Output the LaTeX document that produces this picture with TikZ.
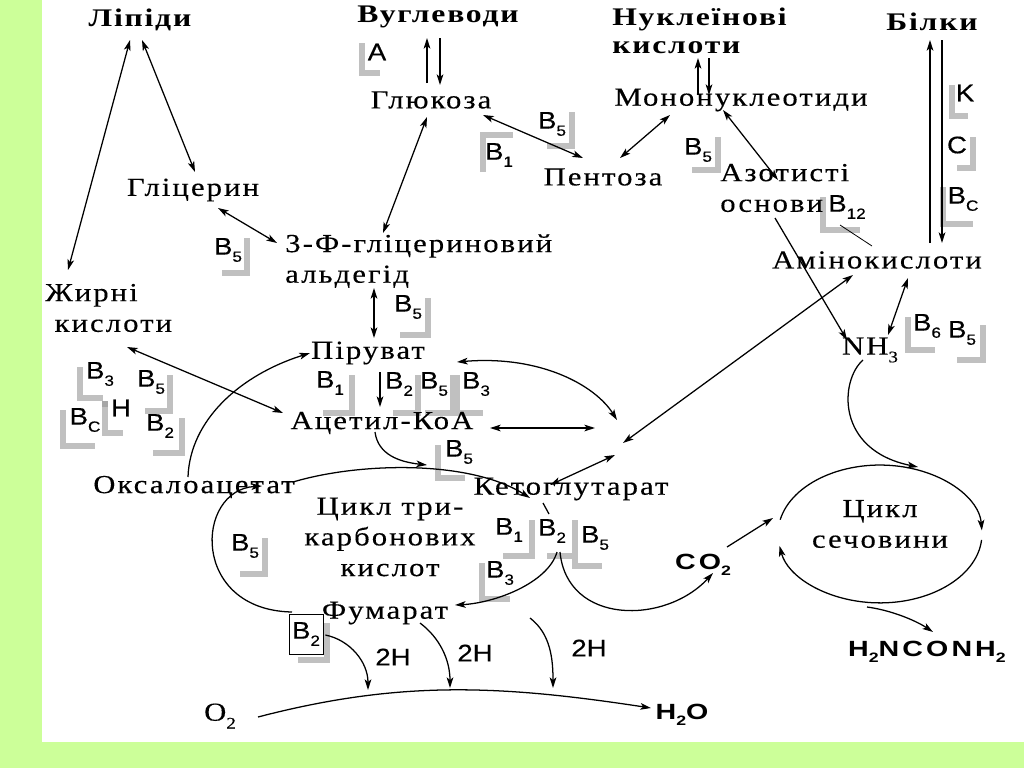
\documentclass[tikz,border=0pt]{standalone}
\usepackage{fontspec}
\usepackage{graphicx}
\usetikzlibrary{arrows.meta,calc}
\newfontfamily\rf{Liberation Serif}[FakeStretch=1.18,LetterSpace=8,FakeBold=0.3]
\newfontfamily\hf{Liberation Serif}[FakeStretch=1.25,LetterSpace=7]
\newfontfamily\labf{Liberation Sans}[FakeStretch=1.15,FakeBold=0.4]
\newfontfamily\bsf{Liberation Sans}[FakeStretch=1.3,LetterSpace=14]
\newcommand\sbx[1]{\raisebox{-0.3em}{\scalebox{0.62}{#1}}}
\definecolor{bgg}{RGB}{204,255,153}
\definecolor{gbc}{RGB}{192,192,192}
\tikzset{
  tx/.style={font=\fontsize{19.5}{23}\selectfont\rf, inner sep=0pt},
  hd/.style={font=\fontsize{19}{21}\selectfont\hf\bfseries, inner sep=0pt},
  lab/.style={font=\fontsize{18}{18}\selectfont\labf, inner sep=0pt},
  bs/.style={font=\fontsize{16.5}{16.5}\selectfont\bsf\bfseries, inner sep=0pt},
  gb/.style={draw=gbc, line width=4.5pt},
  ar/.style={-{Stealth[length=8pt,width=5pt,inset=2pt]}, line width=0.95pt},
  dar/.style={{Stealth[length=8pt,width=5pt,inset=2pt]}-{Stealth[length=8pt,width=5pt,inset=2pt]}, line width=0.95pt},
  ln/.style={line width=0.95pt}
}
\begin{document}
\begin{tikzpicture}[x=0.75pt,y=-0.75pt]
\useasboundingbox (0,0) rectangle (1024,768);
\fill[bgg] (0,0) rectangle (1024,768);
\fill[white] (42,0) rectangle (1024,742);

% grey brackets
\draw[gb] (362,43) -- (362,73) -- (380,73);
\draw[gb] (572,112) -- (572,146) -- (547,146);
\draw[gb] (483,172) -- (483,135) -- (513,135);
\draw[gb] (718,137) -- (718,170) -- (692,170);
\draw[gb] (952,85) -- (952,116) -- (968,116);
\draw[gb] (973,137) -- (973,168) -- (957,168);
\draw[gb] (943,187) -- (943,224) -- (973,224);
\draw[gb] (823,197) -- (823,230) -- (860,230);
\draw[gb] (247,238) -- (247,273) -- (222,273);
\draw[gb] (428,298) -- (428,335) -- (400,335);
\draw[gb] (908,317) -- (908,350) -- (935,350);
\draw[gb] (983,325) -- (983,360) -- (957,360);
\draw[gb] (80,367) -- (80,398) -- (103,398);
\draw[gb] (105,402) -- (105,433) -- (123,433);
\fill[gray!70] (102,401) rectangle (108,407);
\draw[gb] (63,410) -- (63,446) -- (95,446);
\draw[gb] (170,375) -- (170,411) -- (145,411);
\draw[gb] (182,418) -- (182,453) -- (153,453);
\draw[gb] (352,375) -- (352,413) -- (323,413);
\draw[gb] (418,375) -- (418,413) -- (393,413);
\draw[gb] (453,375) -- (453,413) -- (425,413);
\draw[gb] (457,375) -- (457,413) -- (483,413);
\draw[gb] (438,445) -- (438,478) -- (465,478);
\draw[gb] (265,538) -- (265,574) -- (240,574);
\draw[gb] (327,623) -- (327,660) -- (298,660);
\draw[gb] (532,520) -- (532,556) -- (503,556);
\draw[gb] (575,520) -- (575,556) -- (547,556);
\draw[gb] (575,530) -- (575,566) -- (602,566);
\draw[gb] (482,563) -- (482,599) -- (510,599);

% headers
\node[hd] (L) at (140,20) {Ліпіди};
\node[hd] (V) at (438,17) {Вуглеводи};
\node[hd, align=left, anchor=west] (N) at (612,31) {Нуклеїнові\\кислоти};
\node[hd] (Bk) at (932,22) {Білки};

% text nodes
\node[tx] (Gl) at (431,100) {Глюкоза};
\node[tx] (Mn) at (741,100) {Мононуклеотиди};
\node[tx] (Gc) at (193,190) {Гліцерин};
\node[tx] (Pn) at (603,177) {Пентоза};
\node[tx, align=left, anchor=west] (Az) at (720,188) {Азотисті\\основи};
\node[tx, align=left, anchor=west] (F3) at (285,261) {3-Ф-гліцериновий\\альдегід};
\node[tx] (Am) at (877,260) {Амінокислоти};
\node[tx, align=left, anchor=west] (Zh) at (45,308) {Жирні\\\hspace*{7pt}кислоти};
\node[tx] (Pr) at (368,353) {Піруват};
\node[tx] (NH) at (870,350) {NH\sbx{3}};
\node[tx] (Ac) at (382,423) {Ацетил-КоА};
\node[tx] (Ox) at (194,487) {Оксалоацетат};
\node[tx] (Kg) at (571,489) {Кетоглутарат};
\node[tx, align=center] (TCA) at (390,537) {Цикл три-\\карбонових\\кислот};
\node[tx] (Fm) at (385,613) {Фумарат};
\node[tx, align=center] (UC) at (880,524) {Цикл\\сечовини};
\coordinate (E) at (880,534);
\coordinate (J) at (620,440);
\node[tx] (O2) at (220,716) {O\sbx{2}};
\node[bs] (H2O) at (682,715) {H\sbx{2}O};
\node[bs] (CO2) at (703,565) {CO\sbx{2}};
\node[bs] (Ur) at (927,652) {H\sbx{2}NCONH\sbx{2}};
\node[lab] (h1) at (393,657) {2H};
\node[lab] (h2) at (475,653) {2H};
\node[lab] (h3) at (589,648) {2H};

% vitamin labels
\node[lab] (lA) at (377,52) {A};
\node[lab] (l1) at (552,124) {B\sbx{5}};
\node[lab] (l2) at (499,155) {B\sbx{1}};
\node[lab] (l3) at (698,150) {B\sbx{5}};
\node[lab] (lK) at (965,93) {K};
\node[lab] (lC) at (957,145) {C};
\node[lab] (l4) at (963,199) {B\sbx{C}};
\node[lab] (l5) at (847,207) {B\sbx{12}};
\node[lab] (l6) at (228,250) {B\sbx{5}};
\node[lab] (l7) at (408,307) {B\sbx{5}};
\node[lab] (l8) at (927,326) {B\sbx{6}};
\node[lab] (l9) at (962,333) {B\sbx{5}};
\node[lab] (l10) at (100,374) {B\sbx{3}};
\node[lab] (l11) at (151,382) {B\sbx{5}};
\node[lab] (lH) at (121,408) {H};
\node[lab] (l12) at (85,420) {B\sbx{C}};
\node[lab] (l13) at (160,426) {B\sbx{2}};
\node[lab] (l14) at (330,383) {B\sbx{1}};
\node[lab] (l15) at (399,384) {B\sbx{2}};
\node[lab] (l16) at (434,384) {B\sbx{5}};
\node[lab] (l17) at (476,384) {B\sbx{3}};
\node[lab] (l18) at (459,452) {B\sbx{5}};
\node[lab] (l19) at (245,546) {B\sbx{5}};
\node[lab, draw, fill=white, line width=0.6pt, minimum width=25.5pt, minimum height=30pt] (Bx) at (306,634) {B\sbx{2}};
\node[lab] (l20) at (509,530) {B\sbx{1}};
\node[lab] (l21) at (552,531) {B\sbx{2}};
\node[lab] (l22) at (595,538) {B\sbx{5}};
\node[lab] (l23) at (500,573) {B\sbx{3}};

% connectors
\draw[dar] ($(L)+(-10,20)$) -- ($(Zh.west)+(23,-38)$);
\draw[dar] ($(L)+(2,20)$) -- ($(Gc)+(2,-18)$);
\draw[ar] ($(Gl)+(-4,-17)$) -- ($(V)+(-11,21)$);
\draw[ar] ($(V)+(2,21)$) -- ($(Gl)+(9,-15)$);
\draw[dar] ($(Gl)+(52,15)$) -- ($(Pn)+(-20,-19)$);
\draw[dar] ($(Gl)+(-4,17)$) -- ($(F3.west)+(98,-28)$);
\draw[dar] ($(Pn)+(17,-19)$) -- ($(Mn)+(-71,15)$);
\draw[ar] ($(Mn)+(-43,-5)$) -- ($(N.west)+(86,27)$);
\draw[ar] ($(N.west)+(97,27)$) -- ($(Mn)+(-32,-5)$);
\draw[dar] ($(Mn)+(-18,10)$) -- ($(Az.west)+(58,-8)$);
\draw[ar] ($(Az.west)+(55,30)$) -- ($(NH)+(-23,-10)$);
\draw[ln, line width=0.6pt] ($(Am)+(-5,-14)$) -- ($(Az.west)+(120,37)$);
\draw[ar] ($(Am)+(53,-17)$) -- ($(Bk)+(-2,18)$);
\draw[ar] ($(Bk)+(10,18)$) -- ($(Am)+(65,-17)$);
\draw[dar] ($(Gc)+(25,18)$) -- ($(F3.west)+(-8,-18)$);
\draw[dar] ($(F3.west)+(89,27)$) -- ($(Pr)+(6,-15)$);
\draw[dar] ($(Zh.west)+(82,39)$) -- ($(Ac)+(-99,-10)$);
\draw[ar] ($(Pr)+(12,19)$) -- ($(Ac)+(-2,-16)$);
\draw[dar] ($(Pr)+(89,9)$) .. controls ($(Pr)+(172,2)$) and ($(J)+(-25,-55)$) .. ($(J)+(-3,-20)$);
\draw[dar] ($(Ac)+(108,5)$) -- ($(J)+(-25,-12)$);
\draw[dar] ($(Am)+(-24,15)$) -- ($(J)+(3,3)$);
\draw[dar] ($(Kg)+(-21,-4)$) -- ($(J)+(-5,15)$);
\draw[ar] ($(Ox)+(-6,-10)$) .. controls ($(Ox)+(-4,-67)$) and ($(Pr)+(-128,22)$) .. ($(Pr)+(-58,0)$);
\draw[ar] ($(Ox)+(99,-5)$) .. controls ($(Ox)+(166,-25)$) and ($(Kg)+(-101,-29)$) .. ($(Kg)+(-41,9)$);
\draw[ar] ($(Ac)+(-7,9)$) .. controls ($(Ac)+(-4,32)$) and ($(Kg)+(-171,-27)$) .. ($(Kg)+(-144,-24)$);
\draw[ln] ($(Kg)+(-28,14)$) -- ($(Kg)+(-22,25)$);
\draw[ar] ($(Kg)+(-14,63)$) .. controls ($(Kg)+(-23,94)$) and ($(Fm)+(110,-10)$) .. ($(Fm)+(70,-8)$);
\draw[ar] ($(Kg)+(-11,63)$) .. controls ($(Kg)+(-4,136)$) and ($(CO2)+(-38,60)$) .. ($(CO2)+(10,8)$);
\draw[ar] ($(Fm)+(-93,-1)$) .. controls ($(Fm)+(-195,-3)$) and ($(Ox)+(1,3)$) .. ($(Ox)+(68,-1)$);
\draw[ar] ($(Bx.east)+(2,1)$) .. controls ($(O2)+(130,-76)$) and ($(O2)+(148,-54)$) .. ($(O2)+(148,-26)$);
\draw[ar] ($(Fm)+(35,10)$) .. controls ($(Fm)+(55,25)$) and ($(O2)+(230,-56)$) .. ($(O2)+(230,-28)$);
\draw[ar] ($(Kg)+(-41,129)$) .. controls ($(Kg)+(-20,145)$) and ($(H2O)+(-129,-55)$) .. ($(H2O)+(-129,-27)$);
\draw[ar] ($(O2)+(38,1)$) .. controls ($(O2)+(180,-36)$) and ($(H2O)+(-182,-30)$) .. ($(H2O)+(-31,-7)$);
\draw[ar] ($(CO2)+(24,-18)$) -- ($(E)+(-107,-16)$);
\draw[ar] ($(NH)+(-7,10)$) .. controls ($(NH)+(-30,30)$) and ($(E)+(-45,-84)$) .. ($(E)+(38,-67)$);
\draw[dar] ($(Am)+(31,18)$) -- ($(NH)+(18,-15)$);
\draw[ar] ($(E)+(-13,73)$) .. controls ($(E)+(10,76)$) and ($(Ur)+(-12,-32)$) .. ($(Ur)+(6,-20)$);
\draw[ar] ($(E)+(-99.8,-14.3)$) arc[start angle=-168, end angle=-3, x radius=102, y radius=69];
\draw[ar] ($(E)+(101.6,5.9)$) arc[start angle=5, end angle=170, x radius=102, y radius=69];
\end{tikzpicture}
\end{document}
